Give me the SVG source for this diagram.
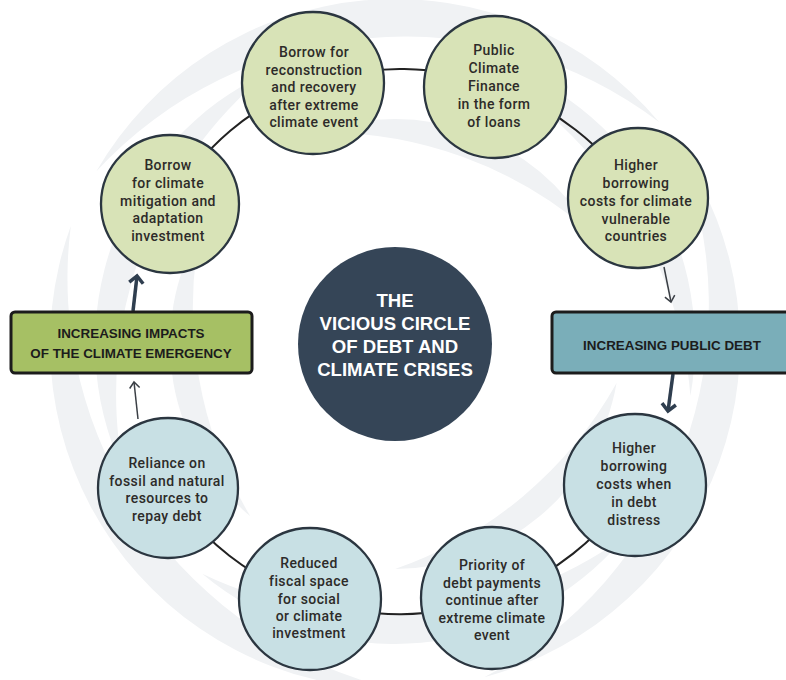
<svg xmlns="http://www.w3.org/2000/svg" width="786" height="680" viewBox="0 0 786 680">
<style>
.bg{fill:#f0f2f4}
.nodeG{fill:#d8e3b7;stroke:#2b3640;stroke-width:2.3}
.nodeB{fill:#c8e0e4;stroke:#2b3640;stroke-width:2.3}
.t{font-family:Roboto,"Liberation Sans",sans-serif;font-weight:500;font-size:14px;letter-spacing:0.4px;fill:#2d2b29;text-anchor:middle}
.title{font-family:"Liberation Sans",Arial,sans-serif;font-weight:bold;font-size:18.6px;fill:#ffffff;text-anchor:middle}
.bt{font-family:"Liberation Sans",Arial,sans-serif;font-weight:bold;font-size:13.4px;fill:#1c1c1c;text-anchor:middle}
.ring{fill:none;stroke:#222;stroke-width:2}
.thin{fill:none;stroke:#3a3f45;stroke-width:1.5}
.thick{fill:none;stroke:#2f3e4f;stroke-width:3.5}
</style>
<defs>
<path id="cA" d="M-282.6,-197.9 A345,345 0 0 1 282.6,-197.9 A420.6,420.6 0 0 0 -282.6,-197.9Z"/>
<path id="cB" d="M-212.1,-212.1 A300,300 0 0 1 212.1,-212.1 A417.4,417.4 0 0 0 -212.1,-212.1Z"/>
<path id="cC" d="M-144.6,-172.4 A225,225 0 0 1 144.6,-172.4 A406.3,406.3 0 0 0 -144.6,-172.4Z"/>
<marker id="mThin" viewBox="-9 -7 11 14" markerWidth="11" markerHeight="14" refX="0" refY="0" orient="auto" markerUnits="userSpaceOnUse">
<path d="M-6,-5 L0,0 L-6,5" fill="none" stroke="#3a3f45" stroke-width="1.5"/>
</marker>
<marker id="mThick" viewBox="-11 -10 14 20" markerWidth="14" markerHeight="20" refX="0" refY="0" orient="auto" markerUnits="userSpaceOnUse">
<path d="M-7,-7 L0,0 L-7,7" fill="none" stroke="#2f3e4f" stroke-width="3.5"/>
</marker>
</defs>
<rect width="786" height="680" fill="#ffffff"/>
<g id="background">
<use href="#cA" class="bg" transform="translate(395,344) rotate(-5)"/>
<use href="#cA" class="bg" transform="translate(395,344) rotate(110)"/>
<use href="#cA" class="bg" transform="translate(395,344) rotate(235)"/>
<use href="#cB" class="bg" transform="translate(395,344) rotate(55)"/>
<use href="#cB" class="bg" transform="translate(395,344) rotate(175)"/>
<use href="#cB" class="bg" transform="translate(395,344) rotate(290)"/>
<use href="#cC" class="bg" transform="translate(395,344) rotate(20)"/>
<use href="#cC" class="bg" transform="translate(395,344) rotate(140)"/>
<use href="#cC" class="bg" transform="translate(395,344) rotate(260)"/>
</g>
<g id="connectors">
<path class="ring" d="M170,204 A268,268 0 0 1 313,83"/>
<path class="ring" d="M313,83 A275,275 0 0 1 495,86"/>
<path class="ring" d="M495,86 A280,280 0 0 1 638,198"/>
<path class="ring" d="M635,485 A276,276 0 0 1 492,598"/>
<path class="ring" d="M492,598 A272,272 0 0 1 310,599"/>
<path class="ring" d="M310,599 A268,268 0 0 1 168,488"/>
<path class="thin" d="M664,267 L671,302" marker-end="url(#mThin)"/>
<path class="thick" d="M673,374 L668,411" marker-end="url(#mThick)"/>
<path class="thick" d="M133,311 L137,276" marker-end="url(#mThick)"/>
<path class="thin" d="M138,419 L134,382" marker-end="url(#mThin)"/>
</g>
<g id="center">
<circle cx="395" cy="344" r="97" fill="#354557"/>
<text class="title"><tspan x="395" y="307">THE</tspan><tspan x="395" y="330">VICIOUS CIRCLE</tspan><tspan x="395" y="353">OF DEBT AND</tspan><tspan x="395" y="376">CLIMATE CRISES</tspan></text>
</g>
<g id="box-impacts">
<rect x="11" y="312" width="241" height="61" rx="4" fill="#a6c064" stroke="#1c1c1c" stroke-width="3"/>
<text class="bt"><tspan x="131" y="338">INCREASING IMPACTS</tspan><tspan x="131" y="358">OF THE CLIMATE EMERGENCY</tspan></text>
</g>
<g id="box-debt">
<rect x="552" y="312" width="250" height="61" rx="4" fill="#7aaeb9" stroke="#1c1c1c" stroke-width="3"/>
<text class="bt" x="672" y="350">INCREASING PUBLIC DEBT</text>
</g>
<g id="n1">
<circle class="nodeG" cx="313" cy="83" r="71"/>
<text class="t"><tspan x="314" y="57">Borrow for</tspan><tspan x="314" y="74.5">reconstruction</tspan><tspan x="314" y="92">and recovery</tspan><tspan x="314" y="109.5">after extreme</tspan><tspan x="314" y="127">climate event</tspan></text>
</g>
<g id="n2">
<circle class="nodeG" cx="170" cy="204" r="69"/>
<text class="t"><tspan x="168" y="170">Borrow</tspan><tspan x="168" y="188">for climate</tspan><tspan x="168" y="205.5">mitigation and</tspan><tspan x="168" y="223">adaptation</tspan><tspan x="168" y="241">investment</tspan></text>
</g>
<g id="n3">
<circle class="nodeG" cx="495" cy="87" r="71"/>
<text class="t"><tspan x="494" y="55">Public</tspan><tspan x="494" y="73">Climate</tspan><tspan x="494" y="91">Finance</tspan><tspan x="494" y="109">in the form</tspan><tspan x="494" y="127">of loans</tspan></text>
</g>
<g id="n4">
<circle class="nodeG" cx="638" cy="198" r="70"/>
<text class="t"><tspan x="636" y="170">Higher</tspan><tspan x="636" y="188">borrowing</tspan><tspan x="636" y="206">costs for climate</tspan><tspan x="636" y="224">vulnerable</tspan><tspan x="636" y="241">countries</tspan></text>
</g>
<g id="n5">
<circle class="nodeB" cx="635" cy="485" r="71"/>
<text class="t"><tspan x="634" y="453">Higher</tspan><tspan x="634" y="471">borrowing</tspan><tspan x="634" y="489">costs when</tspan><tspan x="634" y="507">in debt</tspan><tspan x="634" y="525">distress</tspan></text>
</g>
<g id="n6">
<circle class="nodeB" cx="492" cy="598" r="71"/>
<text class="t"><tspan x="492" y="570">Priority of</tspan><tspan x="492" y="588">debt payments</tspan><tspan x="492" y="605">continue after</tspan><tspan x="492" y="623">extreme climate</tspan><tspan x="492" y="640">event</tspan></text>
</g>
<g id="n7">
<circle class="nodeB" cx="310" cy="599" r="71"/>
<text class="t"><tspan x="309" y="568">Reduced</tspan><tspan x="309" y="586">fiscal space</tspan><tspan x="309" y="604">for social</tspan><tspan x="309" y="621">or climate</tspan><tspan x="309" y="638">investment</tspan></text>
</g>
<g id="n8">
<circle class="nodeB" cx="168" cy="488" r="70"/>
<text class="t"><tspan x="167" y="468">Reliance on</tspan><tspan x="167" y="486">fossil and natural</tspan><tspan x="167" y="503">resources to</tspan><tspan x="167" y="521">repay debt</tspan></text>
</g>
</svg>
